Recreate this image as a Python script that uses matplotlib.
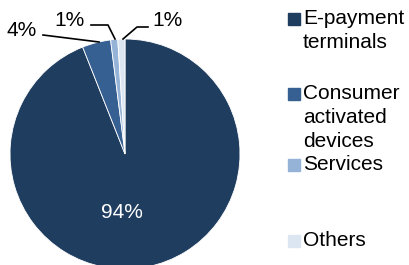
import matplotlib
matplotlib.use('Agg')
import matplotlib.pyplot as plt
from matplotlib.patches import Rectangle

# Daten
categories = ['E-payment\nterminals', 'Consumer\nactivated\ndevices', 'Services', 'Others']
shares = [94, 4, 1, 1]
pct_labels = ['94%', '4%', '1%', '1%']
colors = ['#1F3D5E', '#376092', '#95B3D7', '#DCE6F2']

plt.rcParams['font.family'] = ['Liberation Sans', 'DejaVu Sans']
FS = 15

W, H = 409, 265
fig = plt.figure(figsize=(W / 100, H / 100), dpi=100)
ax = fig.add_axes([0, 0, 1, 1])

# Kreis: Mittelpunkt (125, 154) px, Radius 115 px
R, cx, cy = 115.0, 125.0, 154.0
wedges, _ = ax.pie(shares, colors=colors, startangle=90, counterclock=False,
                   wedgeprops=dict(edgecolor='white', linewidth=0.6))
ax.set_xlim(-cx / R, (W - cx) / R)
ax.set_ylim((cy - H) / R, cy / R)
ax.set_aspect('auto')
ax.axis('off')


def px(x, y):
    # Pixel -> Datenkoordinaten
    return ((x - cx) / R, (cy - y) / R)


# 94% innen
ax.text(*px(122, 212), pct_labels[0], color='white', fontsize=FS,
        ha='center', va='center')

# kleine Segmente mit Führungslinien
ax.text(*px(7, 31), pct_labels[1], fontsize=FS, ha='left', va='center')
ax.plot(*zip(px(43, 35), px(99, 42)), color='black', lw=1.2)

ax.text(*px(54, 20), pct_labels[2], fontsize=FS, ha='left', va='center')
ax.plot(*zip(px(91, 25), px(108, 25), px(115, 39)), color='black', lw=1.2)

ax.text(*px(152, 20), pct_labels[3], fontsize=FS, ha='left', va='center')
ax.plot(*zip(px(148, 27), px(137, 27), px(123, 39)), color='black', lw=1.2)

# Legende (manuell, ungleichmäßige Abstände wie im Original)
legend_y = [19, 94, 165, 241]
for label, col, y in zip(categories, colors, legend_y):
    fig.patches.append(Rectangle((288 / W, 1 - (y + 6) / H), 12 / W, 12 / H,
                                 transform=fig.transFigure, color=col))
    fig.text(303 / W, 1 - (y - 10) / H, label, fontsize=FS, ha='left',
             va='top', linespacing=1.35)

fig.savefig('out.png', dpi=100)
